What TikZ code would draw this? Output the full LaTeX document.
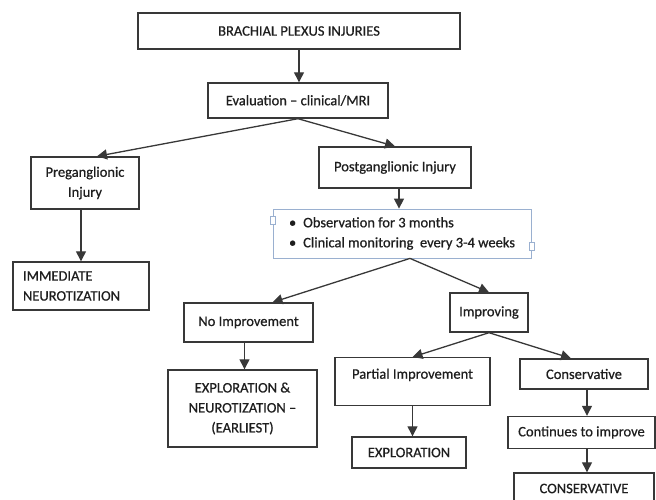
\documentclass[tikz,border=0pt]{standalone}
\usepackage{fontspec}
\setmainfont{Carlito}
\newfontfamily\bpfam{Carlito}[FakeBold=0.7, Ligatures=TeX]
\usepackage{tikz}
\usetikzlibrary{arrows.meta,positioning,calc}
\definecolor{bpline}{HTML}{383838}
\definecolor{bptext}{HTML}{1E1E1E}
\definecolor{bpblue}{HTML}{9AB0D0}
\newcommand{\bpfont}{\bpfam\fontsize{14.5}{20}\selectfont}

\begin{document}
\begin{tikzpicture}[
  x=1pt, y=-1pt,
  box/.style={draw=bpline, line width=1.4pt, font=\bpfont, align=center,
              inner sep=0pt, text=bptext},
  note/.style={draw=bpblue, line width=0.8pt, font=\bpfont, align=left,
               inner sep=0pt, text=bptext},
  handle/.style={draw=bpblue, fill=white, line width=0.6pt,
                 minimum width=5pt, minimum height=8pt, inner sep=0pt},
  arrow/.style={-{Triangle[length=10pt,width=10pt]}, bpline, line width=1.3pt},
]
  \useasboundingbox (0,0) rectangle (656,500);
  \clip (0,0) rectangle (656,500);

  %% Nodos de arriba abajo
  \node[box, minimum width=322pt, minimum height=36pt] (bpi) at (299,31)
    {BRACHIAL PLEXUS INJURIES};
  \node[box, minimum width=180pt, minimum height=35pt] (eval) at (298,100.5)
    {Evaluation – clinical/MRI};
  \node[box, minimum width=108pt, minimum height=52pt] (preg) at (85,183)
    {Preganglionic\\Injury};
  \node[box, minimum width=152pt, minimum height=41pt] (postg) at (395,167.5)
    {Postganglionic Injury};
  \node[box, align=left, text width=116pt, inner xsep=10pt,
        minimum height=48pt] (immed) at (81,286)
    {IMMEDIATE\\NEUROTIZATION};
  \node[note, minimum width=258pt, minimum height=49pt] (obs) at (402,233.5)
    {\textbullet\hspace{7pt}Observation for 3 months\\
     \textbullet\hspace{7pt}Clinical monitoring\ \ every 3-4 weeks};
  \node[handle] (hl) at (273,220) {};
  \node[handle] (hr) at (532,246) {};

  %% Rama sin mejora
  \node[box, minimum width=129pt, minimum height=39pt] (noimp) at (248.5,322.5)
    {No Improvement};
  \node[box, minimum width=149pt, minimum height=77pt] (explneur) at (242.5,408.5)
    {EXPLORATION \&\\NEUROTIZATION –\\(EARLIEST)};

  %% Rama con mejora
  \node[box, minimum width=78pt, minimum height=39pt] (impr) at (489,312.5)
    {Improving};
  \node[box, anchor=north, minimum width=155pt, text height=21pt,
        text depth=27pt] (partial) at (412.5,357)
    {Partial Improvement};
  \node[box, minimum width=128pt, minimum height=30pt] (cons) at (584,374)
    {Conservative};
  \node[box, minimum width=114pt, minimum height=31pt] (expl) at (409,452.5)
    {EXPLORATION};
  \node[box, minimum width=147pt, minimum height=32pt] (cont) at (581.5,432.5)
    {Continues to improve};
  \node[box, minimum width=140pt, minimum height=31pt] (consfin) at (584,488.5)
    {CONSERVATIVE};

  %% Flechas
  \draw[arrow] (bpi.south) -- (bpi.south |- eval.north);
  \draw[arrow] (eval.south) -- ([xshift=12pt]preg.north);
  \draw[arrow] (eval.south) -- (postg.north);
  \draw[arrow] (immed.north |- preg.south) -- (immed.north);
  \draw[arrow] ([xshift=4pt]postg.south) -- ([xshift=4pt]postg.south |- obs.north);
  \draw[arrow] ([xshift=8pt]obs.south) -- ([xshift=24pt]noimp.north);
  \draw[arrow] ([xshift=8pt]obs.south) -- (impr.north);
  \draw[arrow] ([xshift=-4pt]noimp.south) -- ([xshift=-4pt]noimp.south |- explneur.north);
  \draw[arrow] (impr.south) -- (partial.north);
  \draw[arrow] (impr.south) -- ([xshift=-13pt]cons.north);
  \draw[arrow] ([xshift=3pt]cons.south) -- ([xshift=3pt]cons.south |- cont.north);
  \draw[arrow] ([xshift=3pt]cons.south |- cont.south) -- ([xshift=3pt]cons.south |- consfin.north);
  \draw[arrow] (partial.south) -- (partial.south |- expl.north);

\end{tikzpicture}
\end{document}
